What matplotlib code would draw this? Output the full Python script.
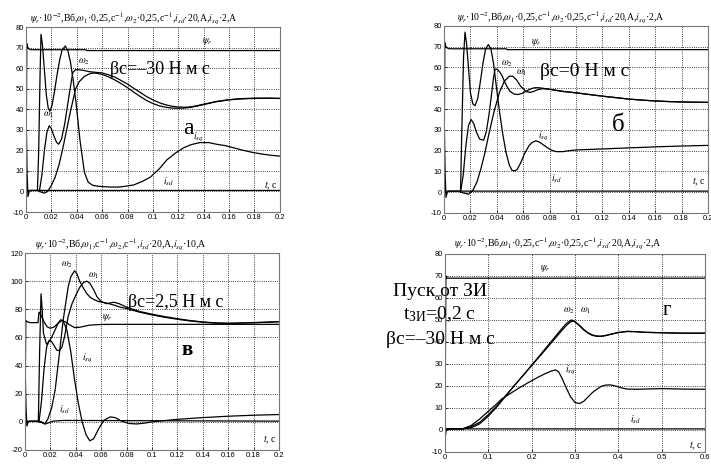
import matplotlib.pyplot as plt

plt.rcParams.update({
    "font.family": "Liberation Serif",
    "mathtext.fontset": "stix",
    "axes.linewidth": 0.8,
})

# ---------------------------------------------------------------------------
# а) beta_c = -30
# ---------------------------------------------------------------------------
a_t_psi = [0, 0.0006, 0.0012, 0.002, 0.004, 0.047, 0.048, 0.2]
a_psi = [0, 72, 70.5, 69.5, 69, 69, 68.6, 68.6]
a_t_isd = [0, 0.0003, 0.0008, 0.0015, 0.0025, 0.004, 0.2]
a_isd = [0, 30, 10, -2.5, 0, 0.5, 0.5]
a_t_isq = [0, 0.009, 0.01, 0.011, 0.0118, 0.013, 0.0145, 0.016, 0.0175, 0.0189,
           0.0205, 0.0225, 0.0245, 0.0265, 0.0285, 0.031, 0.033, 0.035, 0.037,
           0.0394, 0.0425, 0.046, 0.049, 0.0525, 0.057, 0.065, 0.072, 0.078, 0.085,
           0.092, 0.098, 0.105, 0.111, 0.118, 0.124, 0.13, 0.137, 0.144, 0.15,
           0.157, 0.164, 0.17, 0.177, 0.185, 0.192, 0.2]
a_isq = [0.5, 0.5, 20, 55, 76.5, 71, 59, 47, 40.5, 39.2, 42, 49, 57, 64, 69, 70.8,
         68.5, 63, 55, 43.3, 25, 9.3, 4.5, 3, 2.5, 2.2, 2.1, 2.5, 3.2, 5, 7, 11,
         15.4, 18.8, 21.2, 22.8, 23.8, 23.8, 23, 22.3, 21.2, 20.2, 19.2, 18.3, 17.7,
         17.2]
a_t_w1 = [0.0105, 0.0125, 0.0145, 0.0165, 0.0183, 0.02, 0.022, 0.024, 0.0257, 0.028,
          0.0305, 0.0325, 0.0345, 0.0368, 0.039, 0.041, 0.045, 0.05, 0.055, 0.06,
          0.065, 0.07, 0.075, 0.08, 0.085, 0.09, 0.095, 0.1, 0.105, 0.11, 0.115,
          0.12, 0.125, 0.13, 0.135, 0.14, 0.15, 0.16, 0.17, 0.18, 0.19, 0.2]
a_w1 = [0, 8, 20, 29, 32, 30.5, 27, 24, 23, 25.5, 33, 41, 49, 57.8, 59.3, 59.3, 59,
        58.3, 58, 57.7, 56.8, 55.7, 54, 52.3, 50.2, 48.2, 46.2, 44.6, 43.2, 42.2,
        41.5, 41.1, 41, 41.2, 41.8, 42.5, 43.8, 44.7, 45.2, 45.4, 45.4, 45.3]
a_t_w2 = [0.0105, 0.012, 0.0144, 0.017, 0.02, 0.023, 0.026, 0.029, 0.032, 0.035,
          0.039, 0.042, 0.046, 0.049, 0.052, 0.055, 0.06, 0.065, 0.07, 0.075, 0.08,
          0.085, 0.09, 0.095, 0.1, 0.105, 0.11, 0.115, 0.12, 0.125, 0.13, 0.135,
          0.14, 0.15, 0.16, 0.17, 0.18, 0.19, 0.2]
a_w2 = [0, -0.3, -0.8, 0, 3, 7, 13, 21, 30, 39, 49.8, 53.5, 56, 57, 57.6, 57.6, 57,
        55.8, 54.3, 52.5, 50.5, 48.3, 46.2, 44.3, 42.8, 41.7, 41, 40.6, 40.5, 40.6,
        41, 41.6, 42.3, 43.7, 44.6, 45.1, 45.3, 45.4, 45.3]

# ---------------------------------------------------------------------------
# б) beta_c = 0
# ---------------------------------------------------------------------------
b_t_psi = a_t_psi
b_psi = a_psi
b_t_isd = a_t_isd
b_isd = a_isd
b_t_isq = [0, 0.0125, 0.0135, 0.0148, 0.0159, 0.017, 0.0185, 0.02, 0.0218, 0.0235,
           0.0255, 0.0275, 0.0295, 0.0315, 0.0336, 0.0355, 0.0375, 0.04, 0.042,
           0.0445, 0.047, 0.0495, 0.0515, 0.0535, 0.0555, 0.058, 0.061, 0.0645,
           0.067, 0.0697, 0.0725, 0.075, 0.078, 0.0815, 0.085, 0.09, 0.095, 0.1,
           0.12, 0.14, 0.16, 0.18, 0.2]
b_isq = [0.5, 0.5, 30, 65, 77, 72, 60, 48, 42.5, 41.6, 45, 53, 62, 69, 71, 69, 62,
         49, 39, 28, 19, 13, 10.5, 10.2, 11, 14, 18.5, 22.5, 24, 24.7, 24, 22.9,
         21.5, 20.2, 19.5, 19.5, 20, 20.3, 20.8, 21.3, 21.8, 22.2, 22.5]
b_t_w1 = [0.0125, 0.0145, 0.0165, 0.0185, 0.0205, 0.0225, 0.0245, 0.027, 0.03,
          0.032, 0.034, 0.036, 0.0375, 0.0386, 0.04, 0.042, 0.044, 0.046, 0.048,
          0.05, 0.053, 0.056, 0.059, 0.062, 0.065, 0.068, 0.071, 0.075, 0.08, 0.09,
          0.1, 0.11, 0.12, 0.13, 0.14, 0.15, 0.16, 0.17, 0.18, 0.19, 0.2]
b_w1 = [0, 8, 22, 32, 35, 33, 29, 25.5, 25, 29, 37, 47, 55, 59, 59.3, 58, 56, 53,
        50.5, 48.5, 47.2, 47, 47.5, 48.5, 49.5, 50.2, 50.3, 50, 49.5, 48.5, 47.8,
        47, 46.2, 45.5, 44.8, 44.3, 43.9, 43.6, 43.4, 43.3, 43.2]
b_t_w2 = [0.0125, 0.0155, 0.0185, 0.022, 0.025, 0.028, 0.031, 0.034, 0.038, 0.042,
          0.0457, 0.0495, 0.052, 0.055, 0.058, 0.062, 0.065, 0.068, 0.071, 0.075,
          0.08, 0.09, 0.1, 0.11, 0.12, 0.13, 0.14, 0.15, 0.16, 0.17, 0.18, 0.19, 0.2]
b_w2 = [0, -0.5, -1, 1, 5, 11.4, 19, 28, 39, 48, 53.4, 55.8, 55.8, 54, 51, 48.5,
        48, 48.5, 49.3, 49.8, 49.5, 48.5, 47.8, 47, 46.2, 45.5, 44.8, 44.3, 43.9,
        43.6, 43.4, 43.3, 43.2]

# ---------------------------------------------------------------------------
# в) beta_c = 2.5
# ---------------------------------------------------------------------------
c_t_psi = [0, 0.0006, 0.0012, 0.002, 0.004, 0.0102, 0.011, 0.0125, 0.015, 0.0175,
           0.02, 0.023, 0.026, 0.029, 0.032, 0.035, 0.039, 0.043, 0.047, 0.05,
           0.055, 0.06, 0.07, 0.2]
c_psi = [0, 72, 71.5, 71, 70.5, 70.5, 78, 76, 71, 67.5, 66.5, 67.5, 70, 72, 71,
         69, 67, 67.2, 68, 68.6, 69, 69.2, 69.3, 69.3]
c_t_isd = [0, 0.0003, 0.0008, 0.0015, 0.0025, 0.004, 0.011, 0.013, 0.016, 0.019,
           0.022, 0.03, 0.2]
c_isd = [0, 30, 10, -3, 0, 0.5, 0.5, 0, -1.5, -0.5, 0.5, 1, 0.5]
c_t_isq = [0, 0.0105, 0.0115, 0.0126, 0.0135, 0.0145, 0.017, 0.0197, 0.022, 0.024,
           0.026, 0.028, 0.03, 0.033, 0.036, 0.039, 0.042, 0.045, 0.048, 0.051,
           0.054, 0.058, 0.062, 0.067, 0.071, 0.076, 0.082, 0.088, 0.095, 0.1,
           0.12, 0.14, 0.16, 0.18, 0.2]
c_isq = [0.5, 0.5, 50, 91, 80, 63, 55, 58, 62, 66, 70, 72.5, 72, 65, 50, 30, 13, 0,
         -9, -13.5, -12, -5, 1, 3.5, 3, 0.5, -1.2, -1.5, -0.8, 0, 1.8, 3, 4, 4.7,
         5.2]
c_t_w1 = [0.011, 0.013, 0.015, 0.017, 0.019, 0.021, 0.023, 0.025, 0.027, 0.029,
          0.031, 0.034, 0.037, 0.04, 0.043, 0.046, 0.0487, 0.051, 0.054, 0.0566,
          0.06, 0.064, 0.067, 0.07, 0.074, 0.08, 0.09, 0.1, 0.11, 0.12, 0.13, 0.14,
          0.15, 0.16, 0.17, 0.18, 0.19, 0.2]
c_w1 = [0, 15, 38, 53, 58, 57, 54, 51, 50.5, 53, 60, 75, 84, 90, 95.5, 99, 100,
        98.5, 94, 89, 85.5, 84, 84.5, 85, 84, 81.5, 78.5, 76.5, 74.8, 73.3, 72, 71,
        70.3, 70, 70.2, 70.5, 70.8, 71.2]
c_t_w2 = [0.011, 0.013, 0.0155, 0.018, 0.021, 0.0237, 0.027, 0.03, 0.034, 0.036,
          0.039, 0.041, 0.043, 0.046, 0.0487, 0.052, 0.055, 0.058, 0.063, 0.066,
          0.07, 0.075, 0.08, 0.09, 0.1, 0.11, 0.12, 0.13, 0.14, 0.15, 0.16, 0.17,
          0.18, 0.19, 0.2]
c_w2 = [0, -0.5, -1.5, 2, 10, 22.6, 48, 72, 96, 103, 107.4, 105, 100, 95, 91, 88,
        86.6, 85.5, 84.7, 84, 83, 81.5, 80.5, 78, 76, 74.3, 72.9, 71.7, 70.8, 70.2,
        70, 70.2, 70.5, 70.8, 71.2]

# ---------------------------------------------------------------------------
# г) start from ramp generator, beta_c = -30
# ---------------------------------------------------------------------------
d_t_psi = [0, 0.002, 0.004, 0.6]
d_psi = [0, 70, 69, 69]
d_t_isd = [0, 0.001, 0.003, 0.006, 0.6]
d_isd = [0, -2.5, 0, 0.5, 0.5]
d_t_w = [0, 0.04, 0.06, 0.08, 0.1, 0.12, 0.14, 0.16, 0.18, 0.2, 0.22, 0.24, 0.26,
         0.27, 0.28, 0.29, 0.295, 0.3, 0.31, 0.32, 0.33, 0.34, 0.35, 0.36, 0.37,
         0.38, 0.4, 0.42, 0.44, 0.46, 0.5, 0.55, 0.6]
d_w1 = [0.5, 0.5, 1.5, 3.5, 7, 11, 15.6, 20.2, 24.7, 29.3, 33.8, 38.4, 43, 45.3,
        47.5, 49.2, 49.5, 49.1, 47.6, 45.7, 44.2, 43.2, 42.7, 42.6, 42.9, 43.4,
        44.3, 44.8, 44.7, 44.4, 44.2, 44, 44]
d_w2 = [0.5, 0.5, 1, 2.8, 6.3, 10.6, 15.4, 20.2, 24.8, 29.5, 34.2, 39, 43.8, 46.2,
        48.4, 49.9, 49.9, 49.3, 47.5, 45.5, 44, 43, 42.6, 42.6, 42.9, 43.4, 44.3,
        44.8, 44.7, 44.4, 44.2, 44, 44]
d_t_isq = [0, 0.04, 0.06, 0.08, 0.1, 0.12, 0.13, 0.15, 0.17, 0.19, 0.21, 0.23,
           0.245, 0.255, 0.262, 0.27, 0.28, 0.29, 0.3, 0.31, 0.32, 0.33, 0.34,
           0.35, 0.36, 0.37, 0.38, 0.39, 0.4, 0.41, 0.42, 0.44, 0.46, 0.5, 0.55, 0.6]
d_isq = [0.5, 0.5, 2, 5, 8.5, 12, 14, 16.5, 19, 21.3, 23.5, 25.5, 26.8, 27.3, 26.5,
         23.5, 19, 15, 12.5, 12, 13, 15, 17, 18.5, 19.8, 20.4, 20.5, 20.2, 19.6, 19,
         18.6, 18.5, 18.6, 18.8, 18.6, 18.5]

# ticks
x_ticks_02 = [0, 0.02, 0.04, 0.06, 0.08, 0.1, 0.12, 0.14, 0.16, 0.18, 0.2]
x_labels_02 = ["0", "0.02", "0.04", "0.06", "0.08", "0.1", "0.12", "0.14", "0.16",
               "0.18", "0.2"]
x_ticks_06 = [0, 0.1, 0.2, 0.3, 0.4, 0.5, 0.6]
x_labels_06 = ["0", "0.1", "0.2", "0.3", "0.4", "0.5", "0.6"]
y_ticks_80 = [-10, 0, 10, 20, 30, 40, 50, 60, 70, 80]
y_ticks_120 = [-20, 0, 20, 40, 60, 80, 100, 120]

title_1 = (r"$\psi_r$·10$^{-2}$,Вб,$\omega_1$·0,25,с$^{-1}$,$\omega_2$·0,25,с$^{-1}$,"
           r"$i_{sd}$·20,А,$i_{sq}$·2,А")
title_2 = (r"$\psi_r$·10$^{-2}$,Вб,$\omega_1$,с$^{-1}$,$\omega_2$,с$^{-1}$,"
           r"$i_{sd}$·20,А,$i_{sq}$·10,А")

LW = 0.9
TICK_FONT = dict(fontfamily="Liberation Sans", fontsize=5.5)


def setup(ax, xticks, xlabels, yticks):
    ax.set_xlim(xticks[0], xticks[-1])
    ax.set_ylim(yticks[0], yticks[-1])
    ax.set_xticks(xticks)
    ax.set_xticklabels(xlabels, **TICK_FONT)
    ax.set_yticks(yticks)
    ax.set_yticklabels([str(v) for v in yticks], **TICK_FONT)
    ax.tick_params(length=2, width=0.5, pad=1.5, direction="in")
    ax.grid(True, color="black", linestyle=":", linewidth=0.6)
    for s in ax.spines.values():
        s.set_color("#777777")


def curves(ax, series):
    for t, y in series:
        ax.plot(t, y, color="black", lw=LW)


def lab(ax, x, y, s, size=7):
    ax.text(x, y, s, fontsize=size, ha="center", va="center")


fig = plt.figure(figsize=(7.11, 4.68), dpi=100)
ax_a = fig.add_axes([0.0366, 0.547, 0.357, 0.395])
ax_b = fig.add_axes([0.6245, 0.545, 0.3713, 0.3996])
ax_c = fig.add_axes([0.0352, 0.0385, 0.3572, 0.4209])
ax_d = fig.add_axes([0.6259, 0.0342, 0.3657, 0.4231])

# а
setup(ax_a, x_ticks_02, x_labels_02, y_ticks_80)
curves(ax_a, [(a_t_psi, a_psi), (a_t_isd, a_isd), (a_t_isq, a_isq),
              (a_t_w1, a_w1), (a_t_w2, a_w2)])
lab(ax_a, 0.143, 73, r"$\psi_r$")
lab(ax_a, 0.046, 63, r"$\omega_2$")
lab(ax_a, 0.018, 37.5, r"$\omega_1$")
lab(ax_a, 0.136, 26.5, r"$i_{sq}$")
lab(ax_a, 0.112, 4.5, r"$i_{sd}$")
ax_a.text(0.128, 30.5, "а", fontsize=17, ha="center", va="center")
ax_a.text(0.066, 59.5, "βс=–30 Н м с", fontsize=13, ha="left", va="center")
ax_a.text(0.198, 3, r"$t$, с", fontsize=7, ha="right", va="center")

# б
setup(ax_b, x_ticks_02, x_labels_02, y_ticks_80)
curves(ax_b, [(b_t_psi, b_psi), (b_t_isd, b_isd), (b_t_isq, b_isq),
              (b_t_w1, b_w1), (b_t_w2, b_w2)])
lab(ax_b, 0.07, 72, r"$\psi_r$")
lab(ax_b, 0.048, 62, r"$\omega_2$")
lab(ax_b, 0.059, 57.3, r"$\omega_1$")
lab(ax_b, 0.075, 27, r"$i_{sq}$")
lab(ax_b, 0.085, 6.5, r"$i_{sd}$")
ax_b.text(0.132, 32.5, "б", fontsize=18, ha="center", va="center")
ax_b.text(0.073, 58, "βс=0 Н м с", fontsize=14, ha="left", va="center")
ax_b.text(0.198, 5, r"$t$, с", fontsize=7, ha="right", va="center")

# в
setup(ax_c, x_ticks_02, x_labels_02, y_ticks_120)
curves(ax_c, [(c_t_psi, c_psi), (c_t_isd, c_isd), (c_t_isq, c_isq),
              (c_t_w1, c_w1), (c_t_w2, c_w2)])
lab(ax_c, 0.033, 112, r"$\omega_2$")
lab(ax_c, 0.054, 104, r"$\omega_1$")
lab(ax_c, 0.065, 74, r"$\psi_r$")
lab(ax_c, 0.049, 45, r"$i_{sq}$")
lab(ax_c, 0.031, 8.5, r"$i_{sd}$")
ax_c.text(0.128, 51, "в", fontsize=15, fontweight="bold", ha="center", va="center")
ax_c.text(0.081, 85, "βс=2,5 Н м с", fontsize=13, ha="left", va="center")
ax_c.text(0.198, -12.5, r"$t$, с", fontsize=7, ha="right", va="center")

# г
setup(ax_d, x_ticks_06, x_labels_06, y_ticks_80)
curves(ax_d, [(d_t_psi, d_psi), (d_t_isd, d_isd), (d_t_isq, d_isq),
              (d_t_w, d_w1), (d_t_w, d_w2)])
lab(ax_d, 0.232, 73.5, r"$\psi_r$")
lab(ax_d, 0.286, 54, r"$\omega_2$")
lab(ax_d, 0.325, 54, r"$\omega_1$")
lab(ax_d, 0.29, 27, r"$i_{sq}$")
lab(ax_d, 0.44, 4.5, r"$i_{sd}$")
ax_d.text(0.512, 54.5, "г", fontsize=15, ha="center", va="center")
ax_d.text(0.595, -7.4, r"$t$, с", fontsize=7, ha="right", va="center")

# titles above each panel
fig.text(134 / 711, 1 - 18 / 468, title_1, fontsize=7, ha="center", va="center")
fig.text(561 / 711, 1 - 17 / 468, title_1, fontsize=7, ha="center", va="center")
fig.text(121 / 711, 1 - 244 / 468, title_2, fontsize=7, ha="center", va="center")
fig.text(558 / 711, 1 - 243 / 468, title_1, fontsize=7, ha="center", va="center")

# start-up note for panel г
fig.text(440 / 711, 1 - 291 / 468, "Пуск от ЗИ", fontsize=14, ha="center", va="center")
fig.text(440 / 711, 1 - 314 / 468, r"$\mathregular{t_{ЗИ}}$=0,2 с", fontsize=14,
         ha="center", va="center")
fig.text(440 / 711, 1 - 339 / 468, "βс=–30 Н м с", fontsize=14, ha="center", va="center")

fig.savefig("out.png", dpi=100)
